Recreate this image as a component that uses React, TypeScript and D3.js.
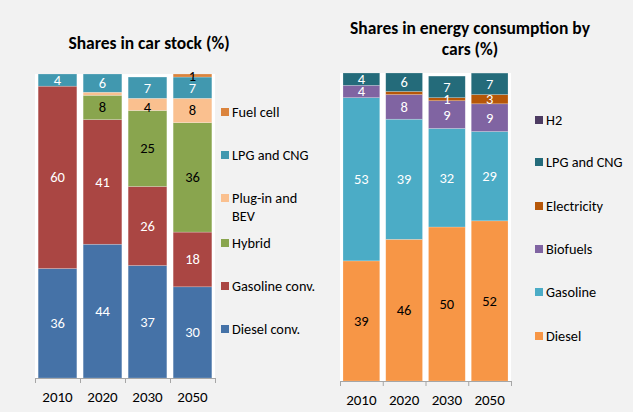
import React from 'react';
import * as d3 from 'd3';

// chart data
const years = ['2010', '2020', '2030', '2050'];

const stockSeries = ['Diesel conv.', 'Gasoline conv.', 'Hybrid', 'Plug-in and BEV', 'LPG and CNG', 'Fuel cell'];
const stockDiesel = [36, 44, 37, 30];
const stockGasoline = [60, 41, 26, 18];
const stockHybrid = [0, 8, 25, 36];
const stockPlugin = [0, 1, 4, 8];
const stockLpg = [4, 6, 7, 7];
const stockFuelCell = [0, 0, 0, 1];
const stockColors = ['#4572A7', '#AA4643', '#89A54E', '#FAC08F', '#4198AF', '#DB843D'];
const stockLabelColors = ['#fff', '#fff', '#000', '#000', '#fff', '#000'];

const energySeries = ['Diesel', 'Gasoline', 'Biofuels', 'Electricity', 'LPG and CNG', 'H2'];
const energyDiesel = [39, 46, 50, 52];
const energyGasoline = [53, 39, 32, 29];
const energyBiofuels = [4, 8, 9, 9];
const energyElectricity = [0, 1, 1, 3];
const energyLpg = [4, 6, 7, 7];
const energyH2 = [0, 0, 0, 1];
const energyColors = ['#F79646', '#4BACC6', '#8064A2', '#B65708', '#246B7A', '#4D3B62'];
const energyLabelColors = ['#000', '#fff', '#fff', '#fff', '#fff', '#fff'];

const FONT = 'Calibri, Carlito, Lato, sans-serif';

type Panel = {
  id: string;
  series: string[];
  values: number[][];
  colors: string[];
  labelColors: string[];
  x0: number;
  x1: number;
  top: number;
  bottom: number;
  hidden: string[];
  labelNudge: { [k: string]: number };
};

function StackedPanel({ p }: { p: Panel }) {
  const x = d3.scaleBand().domain(years).range([p.x0, p.x1]).paddingInner(0.14).paddingOuter(0.07);
  const y = d3.scaleLinear().domain([0, 100]).range([p.bottom, p.top]);

  const rows = years.map((yr, i) => {
    const r: any = { year: yr };
    p.series.forEach((s, k) => (r[s] = p.values[k][i]));
    return r;
  });
  const stacked = d3.stack<any>().keys(p.series)(rows);
  const step = (p.x1 - p.x0) / years.length;

  return (
    <g>
      <defs>
        <clipPath id={`clip-${p.id}`}>
          <rect x={p.x0} y={p.top} width={p.x1 - p.x0} height={p.bottom - p.top} />
        </clipPath>
      </defs>
      <rect x={p.x0} y={p.top} width={p.x1 - p.x0} height={p.bottom - p.top} fill="#fff" />
      <g clipPath={`url(#clip-${p.id})`}>
        {stacked.map((layer, k) =>
          layer.map((d, i) => {
            const h = y(d[0]) - y(d[1]);
            if (h <= 0) return null;
            return (
              <rect key={`${k}-${i}`} x={x(years[i])} y={y(d[1])} width={x.bandwidth()} height={h}
                fill={p.colors[k]} stroke="#ffffff" strokeOpacity={0.35} strokeWidth={0.6} />
            );
          })
        )}
      </g>
      {stacked.map((layer, k) =>
        layer.map((d, i) => {
          const v = d[1] - d[0];
          if (v <= 0 || p.hidden.includes(`${k}-${i}`)) return null;
          const nudge = p.labelNudge[`${k}-${i}`] || 0;
          return (
            <text key={`t${k}-${i}`} x={(x(years[i]) as number) + x.bandwidth() / 2}
              y={(y(d[0]) + y(d[1])) / 2 + 5 + nudge} textAnchor="middle"
              fontSize={14.5} fontFamily={FONT} fill={p.labelColors[k]}>
              {v}
            </text>
          );
        })
      )}
      <line x1={p.x0} x2={p.x1} y1={p.bottom + 0.5} y2={p.bottom + 0.5} stroke="#a6a6a6" />
      {d3.range(years.length + 1).map(j => (
        <line key={j} x1={p.x0 + j * step + 0.5} x2={p.x0 + j * step + 0.5} y1={p.bottom} y2={p.bottom + 5} stroke="#a6a6a6" />
      ))}
      {years.map(yr => (
        <text key={yr} x={(x(yr) as number) + x.bandwidth() / 2} y={p.bottom + 24} textAnchor="middle"
          fontSize={15} fontFamily={FONT} fill="#000">
          {yr}
        </text>
      ))}
    </g>
  );
}

function Legend({ items, colors, x, ys }: { items: string[][]; colors: string[]; x: number; ys: number[] }) {
  return (
    <g>
      {items.map((lines, i) => (
        <g key={i}>
          <rect x={x} y={ys[i] - 9} width={8} height={8} fill={colors[i]} />
          <text x={x + 11} y={ys[i]} fontSize={14.3} fontFamily={FONT} fill="#000">
            {lines.map((ln, j) => (
              <tspan key={j} x={x + 11} dy={j === 0 ? 0 : 18}>{ln}</tspan>
            ))}
          </text>
        </g>
      ))}
    </g>
  );
}

export default function App() {
  const stock: Panel = {
    id: 'stock',
    series: stockSeries,
    values: [stockDiesel, stockGasoline, stockHybrid, stockPlugin, stockLpg, stockFuelCell],
    colors: stockColors,
    labelColors: stockLabelColors,
    x0: 35, x1: 215, top: 74, bottom: 378,
    hidden: ['3-1'],
    labelNudge: { '3-2': 3 },
  };
  const energy: Panel = {
    id: 'energy',
    series: energySeries,
    values: [energyDiesel, energyGasoline, energyBiofuels, energyElectricity, energyLpg, energyH2],
    colors: energyColors,
    labelColors: energyLabelColors,
    x0: 340, x1: 511, top: 73, bottom: 381,
    hidden: ['3-1', '5-3'],
    labelNudge: {},
  };

  return (
    <svg width={633} height={412} style={{ position: 'absolute', left: 0, top: 0 }}>
      <rect width={633} height={412} fill="#f2f2f2" />
      <text x={149} y={49} textAnchor="middle" fontSize={17.5} fontWeight="bold" fontFamily={FONT}>
        Shares in car stock (%)
      </text>
      <text x={470} y={34} textAnchor="middle" fontSize={17.5} fontWeight="bold" fontFamily={FONT}>
        <tspan x={470}>Shares in energy consumption by</tspan>
        <tspan x={470} dy={21}>cars (%)</tspan>
      </text>
      <StackedPanel p={stock} />
      <StackedPanel p={energy} />
      <Legend
        items={[['Fuel cell'], ['LPG and CNG'], ['Plug-in and', 'BEV'], ['Hybrid'], ['Gasoline conv.'], ['Diesel conv.']]}
        colors={[stockColors[5], stockColors[4], stockColors[3], stockColors[2], stockColors[1], stockColors[0]]}
        x={221} ys={[117, 160, 203, 248, 291, 334]} />
      <Legend
        items={[['H2'], ['LPG and CNG'], ['Electricity'], ['Biofuels'], ['Gasoline'], ['Diesel']]}
        colors={[energyColors[5], energyColors[4], energyColors[3], energyColors[2], energyColors[1], energyColors[0]]}
        x={535} ys={[125, 167, 211, 254, 297, 341]} />
    </svg>
  );
}
